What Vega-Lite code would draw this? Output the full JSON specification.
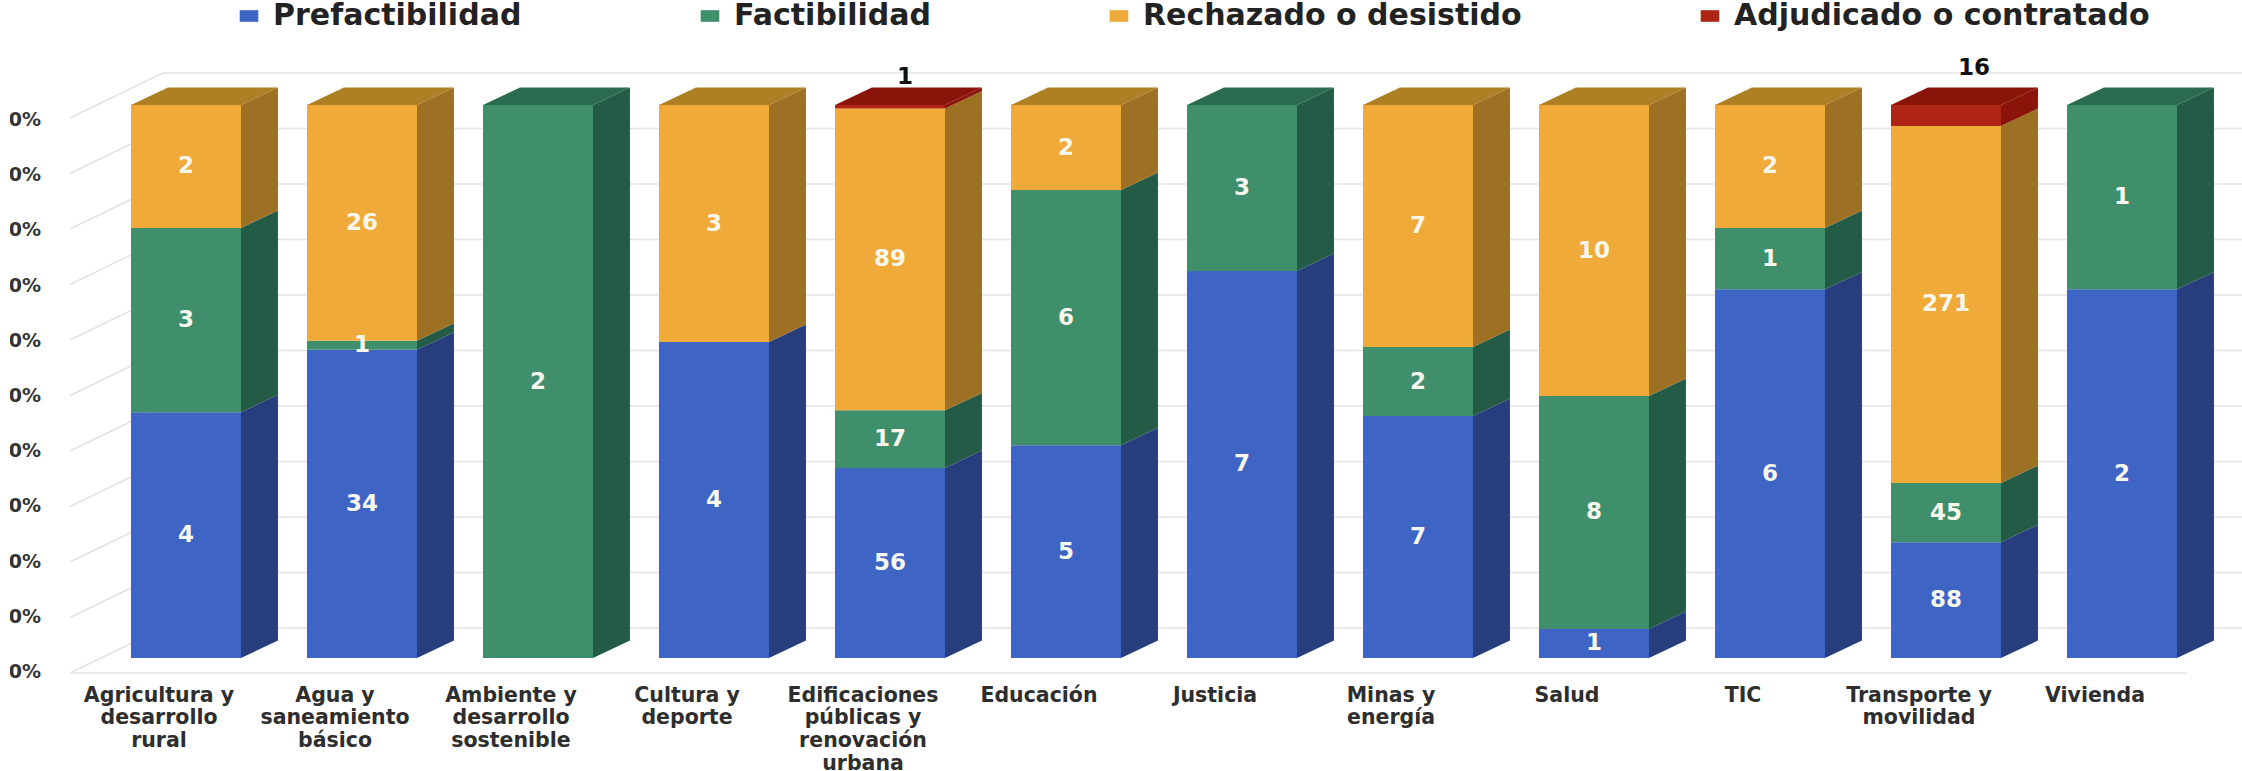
{
"$schema":"https://vega.github.io/schema/vega-lite/v6.json",
"width":2242,"height":771,"padding":0,"autosize":{"type":"none"},"background":"white",
"view":{"stroke":null},
"config":{"font":"DejaVu Sans"},
"datasets":{
"proyectos":[
{"categoria":"Agricultura y\ndesarrollo\nrural","estado":"Prefactibilidad","n":4},
{"categoria":"Agricultura y\ndesarrollo\nrural","estado":"Factibilidad","n":3},
{"categoria":"Agricultura y\ndesarrollo\nrural","estado":"Rechazado o desistido","n":2},
{"categoria":"Agua y\nsaneamiento\nbásico","estado":"Prefactibilidad","n":34},
{"categoria":"Agua y\nsaneamiento\nbásico","estado":"Factibilidad","n":1},
{"categoria":"Agua y\nsaneamiento\nbásico","estado":"Rechazado o desistido","n":26},
{"categoria":"Ambiente y\ndesarrollo\nsostenible","estado":"Factibilidad","n":2},
{"categoria":"Cultura y\ndeporte","estado":"Prefactibilidad","n":4},
{"categoria":"Cultura y\ndeporte","estado":"Rechazado o desistido","n":3},
{"categoria":"Edificaciones\npúblicas y\nrenovación\nurbana","estado":"Prefactibilidad","n":56},
{"categoria":"Edificaciones\npúblicas y\nrenovación\nurbana","estado":"Factibilidad","n":17},
{"categoria":"Edificaciones\npúblicas y\nrenovación\nurbana","estado":"Rechazado o desistido","n":89},
{"categoria":"Edificaciones\npúblicas y\nrenovación\nurbana","estado":"Adjudicado o contratado","n":1},
{"categoria":"Educación","estado":"Prefactibilidad","n":5},
{"categoria":"Educación","estado":"Factibilidad","n":6},
{"categoria":"Educación","estado":"Rechazado o desistido","n":2},
{"categoria":"Justicia","estado":"Prefactibilidad","n":7},
{"categoria":"Justicia","estado":"Factibilidad","n":3},
{"categoria":"Minas y\nenergía","estado":"Prefactibilidad","n":7},
{"categoria":"Minas y\nenergía","estado":"Factibilidad","n":2},
{"categoria":"Minas y\nenergía","estado":"Rechazado o desistido","n":7},
{"categoria":"Salud","estado":"Prefactibilidad","n":1},
{"categoria":"Salud","estado":"Factibilidad","n":8},
{"categoria":"Salud","estado":"Rechazado o desistido","n":10},
{"categoria":"TIC","estado":"Prefactibilidad","n":6},
{"categoria":"TIC","estado":"Factibilidad","n":1},
{"categoria":"TIC","estado":"Rechazado o desistido","n":2},
{"categoria":"Transporte y\nmovilidad","estado":"Prefactibilidad","n":88},
{"categoria":"Transporte y\nmovilidad","estado":"Factibilidad","n":45},
{"categoria":"Transporte y\nmovilidad","estado":"Rechazado o desistido","n":271},
{"categoria":"Transporte y\nmovilidad","estado":"Adjudicado o contratado","n":16},
{"categoria":"Vivienda","estado":"Prefactibilidad","n":2},
{"categoria":"Vivienda","estado":"Factibilidad","n":1}
],
"ticks":[{"t":0},{"t":0.1},{"t":0.2},{"t":0.3},{"t":0.4},{"t":0.5},{"t":0.6},{"t":0.7},{"t":0.8},{"t":0.9},{"t":1}]
},
"layer":[
{"data":{"name":"ticks"},
 "transform":[{"calculate":"0.05425+1.00362*datum.t","as":"vb"}],
 "mark":{"type":"rule","stroke":"#e3e3e3","strokeWidth":1.5},
 "encoding":{"y":{"field":"vb","type":"quantitative","scale":{"domain":[-0.2043,1.1899],"range":[771,0],"nice":false,"zero":false},"axis":null},
  "x":{"datum":0.869,"type":"quantitative","scale":{"domain":[-0.0568,12.6818],"range":[0,2242],"nice":false,"zero":false},"axis":null},
  "x2":{"datum":12.69}}},
{"data":{"name":"ticks"},
 "transform":[{"calculate":"0.05425+1.00362*datum.t","as":"vb"},{"calculate":"-0.02712+1.00362*datum.t","as":"vf"}],
 "mark":{"type":"rule","stroke":"#e3e3e3","strokeWidth":1.5},
 "encoding":{"y":{"field":"vf","type":"quantitative","scale":{"domain":[-0.2043,1.1899],"range":[771,0],"nice":false,"zero":false},"axis":null},"y2":{"field":"vb"},
  "x":{"datum":0.341,"type":"quantitative","scale":{"domain":[-0.0568,12.6818],"range":[0,2242],"nice":false,"zero":false},"axis":null},"x2":{"datum":0.869}}},
{"data":{"name":"ticks"},
 "transform":[{"filter":"datum.t==0"},{"calculate":"-0.02712","as":"vf"}],
 "mark":{"type":"rule","stroke":"#e3e3e3","strokeWidth":1.5},
 "encoding":{"y":{"field":"vf","type":"quantitative","scale":{"domain":[-0.2043,1.1899],"range":[771,0],"nice":false,"zero":false},"axis":null},
  "x":{"datum":0.341,"type":"quantitative","scale":{"domain":[-0.0568,12.6818],"range":[0,2242],"nice":false,"zero":false},"axis":null},"x2":{"datum":12.37}}},
{"data":{"name":"ticks"},
 "transform":[{"calculate":"-0.0253+0.998*datum.t","as":"vl"}],
 "mark":{"type":"text","align":"right","baseline":"middle","font":"DejaVu Sans","fontWeight":"bold","fontSize":19,"color":"#333333"},
 "encoding":{"y":{"field":"vl","type":"quantitative","scale":{"domain":[-0.2043,1.1899],"range":[771,0],"nice":false,"zero":false},"axis":null},
  "x":{"datum":0.176,"type":"quantitative","scale":{"domain":[-0.0568,12.6818],"range":[0,2242],"nice":false,"zero":false},"axis":null},
  "text":{"field":"t","type":"quantitative","format":".0%"}}},
{"data":{"values":[{"tapa":"recorte del eje"}]},
 "mark":{"type":"rect","fill":"white"},
 "encoding":{"x":{"datum":-0.0568,"type":"quantitative","scale":{"domain":[-0.0568,12.6818],"range":[0,2242],"nice":false,"zero":false},"axis":null},"x2":{"datum":0.0},
  "y":{"datum":-0.1,"type":"quantitative","scale":{"domain":[-0.2043,1.1899],"range":[771,0],"nice":false,"zero":false},"axis":null},"y2":{"datum":1.1}}},
{"data":{"name":"proyectos"},
 "transform":[
  {"calculate":"indexof(['Prefactibilidad','Factibilidad','Rechazado o desistido','Adjudicado o contratado'],datum.estado)","as":"orden"},
  {"window":[{"op":"dense_rank","as":"r"}],"sort":[{"field":"categoria"}]},
  {"stack":"n","groupby":["categoria"],"sort":[{"field":"orden"}],"offset":"normalize","as":["v0","v1"]},
  {"calculate":"[0,1]","as":"k"},{"flatten":["k"]},
  {"calculate":"datum.r+0.3125+0.21*datum.k","as":"xs"},
  {"calculate":"datum.v0+0.0316*datum.k","as":"a"},
  {"calculate":"datum.v1+0.0316*datum.k","as":"b"}],
 "mark":{"type":"area","orient":"vertical","interpolate":"linear"},
 "encoding":{"x":{"field":"xs","type":"quantitative","scale":{"domain":[-0.0568,12.6818],"range":[0,2242],"nice":false,"zero":false},"axis":null},
  "y":{"field":"a","type":"quantitative","scale":{"domain":[-0.2043,1.1899],"range":[771,0],"nice":false,"zero":false},"axis":null},"y2":{"field":"b"},
  "detail":{"field":"categoria"},
  "color":{"field":"estado","type":"nominal","legend":null,"scale":{"domain":["Prefactibilidad","Factibilidad","Rechazado o desistido","Adjudicado o contratado"],"range":["#273d7d","#245b46","#9c7124","#8a1409"]}}}},
{"data":{"name":"proyectos"},
 "transform":[
  {"calculate":"indexof(['Prefactibilidad','Factibilidad','Rechazado o desistido','Adjudicado o contratado'],datum.estado)","as":"orden"},
  {"window":[{"op":"dense_rank","as":"r"}],"sort":[{"field":"categoria"}]},
  {"stack":"n","groupby":["categoria"],"sort":[{"field":"orden"}],"offset":"normalize","as":["v0","v1"]},
  {"filter":"datum.v1>0.99999"},
  {"calculate":"[0,1]","as":"k"},{"flatten":["k"]},
  {"calculate":"datum.r-0.3125+0.21*datum.k","as":"xa"},
  {"calculate":"datum.r+0.3125+0.21*datum.k","as":"xb"},
  {"calculate":"1+0.0316*datum.k","as":"a"}],
 "mark":{"type":"area","orient":"horizontal","interpolate":"linear"},
 "encoding":{"y":{"field":"a","type":"quantitative","scale":{"domain":[-0.2043,1.1899],"range":[771,0],"nice":false,"zero":false},"axis":null},
  "x":{"field":"xa","type":"quantitative","scale":{"domain":[-0.0568,12.6818],"range":[0,2242],"nice":false,"zero":false},"axis":null},"x2":{"field":"xb"},
  "detail":{"field":"categoria"},
  "color":{"field":"estado","type":"nominal","legend":null,"scale":{"domain":["Prefactibilidad","Factibilidad","Rechazado o desistido","Adjudicado o contratado"],"range":["#2f4a96","#2b6b50","#ae7f23","#8a1409"]}}}},
{"data":{"name":"proyectos"},
 "transform":[
  {"calculate":"indexof(['Prefactibilidad','Factibilidad','Rechazado o desistido','Adjudicado o contratado'],datum.estado)","as":"orden"},
  {"window":[{"op":"dense_rank","as":"r"}],"sort":[{"field":"categoria"}]},
  {"stack":"n","groupby":["categoria"],"sort":[{"field":"orden"}],"offset":"normalize","as":["v0","v1"]},
  {"calculate":"datum.r-0.3125","as":"xa"},{"calculate":"datum.r+0.3125","as":"xb"}],
 "mark":{"type":"rect"},
 "encoding":{"x":{"field":"xa","type":"quantitative","scale":{"domain":[-0.0568,12.6818],"range":[0,2242],"nice":false,"zero":false},"axis":null},"x2":{"field":"xb"},
  "y":{"field":"v0","type":"quantitative","scale":{"domain":[-0.2043,1.1899],"range":[771,0],"nice":false,"zero":false},"axis":null},"y2":{"field":"v1"},
  "color":{"field":"estado","type":"nominal",
   "scale":{"domain":["Prefactibilidad","Factibilidad","Rechazado o desistido","Adjudicado o contratado"],"range":["#3e64c4","#3f8f6c","#f0aa3a","#ae2415"]},
   "legend":{"title":null,"orient":"none","legendX":234,"legendY":1,"direction":"horizontal","columns":4,"gridAlign":"each","columnPadding":173,
    "symbolType":"M-1.2,-0.75H1.2V0.75H-1.2Z","symbolSize":240,"symbolStrokeWidth":0,"symbolOpacity":1,
    "labelFont":"DejaVu Sans","labelFontWeight":"bold","labelFontSize":30,"labelColor":"#222222","labelLimit":600,"labelOffset":9,
    "encode":{"symbols":{"update":{"fill":{"signal":"datum.value==='Adjudicado o contratado'?'#e62a1d':scale('color',datum.value)"}}}}}}}},
{"data":{"name":"proyectos"},
 "transform":[
  {"calculate":"indexof(['Prefactibilidad','Factibilidad','Rechazado o desistido','Adjudicado o contratado'],datum.estado)","as":"orden"},
  {"window":[{"op":"dense_rank","as":"r"}],"sort":[{"field":"categoria"}]},
  {"stack":"n","groupby":["categoria"],"sort":[{"field":"orden"}],"offset":"normalize","as":["v0","v1"]},
  {"filter":"datum.estado!=='Adjudicado o contratado'"},
  {"calculate":"(datum.v0+datum.v1)/2","as":"m"}],
 "mark":{"type":"text","font":"DejaVu Sans","fontWeight":"bold","fontSize":23,"color":"#f7f7ee","baseline":"middle","align":"center"},
 "encoding":{"x":{"field":"r","type":"quantitative","scale":{"domain":[-0.0568,12.6818],"range":[0,2242],"nice":false,"zero":false},"axis":null},
  "y":{"field":"m","type":"quantitative","scale":{"domain":[-0.2043,1.1899],"range":[771,0],"nice":false,"zero":false},"axis":null},"text":{"field":"n","type":"quantitative"}}},
{"data":{"name":"proyectos"},
 "transform":[
  {"window":[{"op":"dense_rank","as":"r"}],"sort":[{"field":"categoria"}]},
  {"filter":"datum.estado==='Adjudicado o contratado'&&datum.n==1"}],
 "mark":{"type":"text","font":"DejaVu Sans","fontWeight":"bold","fontSize":23,"color":"#111111","baseline":"middle","align":"center","xOffset":15},
 "encoding":{"x":{"field":"r","type":"quantitative","scale":{"domain":[-0.0568,12.6818],"range":[0,2242],"nice":false,"zero":false},"axis":null},
  "y":{"datum":1.0506,"type":"quantitative","scale":{"domain":[-0.2043,1.1899],"range":[771,0],"nice":false,"zero":false},"axis":null},"text":{"field":"n","type":"quantitative"}}},
{"data":{"name":"proyectos"},
 "transform":[
  {"window":[{"op":"dense_rank","as":"r"}],"sort":[{"field":"categoria"}]},
  {"filter":"datum.estado==='Adjudicado o contratado'&&datum.n==16"}],
 "mark":{"type":"text","font":"DejaVu Sans","fontWeight":"bold","fontSize":23,"color":"#111111","baseline":"middle","align":"center","xOffset":28},
 "encoding":{"x":{"field":"r","type":"quantitative","scale":{"domain":[-0.0568,12.6818],"range":[0,2242],"nice":false,"zero":false},"axis":null},
  "y":{"datum":1.0669,"type":"quantitative","scale":{"domain":[-0.2043,1.1899],"range":[771,0],"nice":false,"zero":false},"axis":null},"text":{"field":"n","type":"quantitative"}}},
{"data":{"name":"proyectos"},
 "transform":[
  {"aggregate":[{"op":"count","as":"c"}],"groupby":["categoria"]},
  {"window":[{"op":"dense_rank","as":"r"}],"sort":[{"field":"categoria"}]}],
 "mark":{"type":"text","font":"DejaVu Sans","fontWeight":"bold","fontSize":20.5,"color":"#2e2e2e","baseline":"top","align":"center","xOffset":-27,"lineBreak":"\n","lineHeight":22.7},
 "encoding":{"x":{"field":"r","type":"quantitative","scale":{"domain":[-0.0568,12.6818],"range":[0,2242],"nice":false,"zero":false},"axis":null},
  "y":{"datum":-0.05,"type":"quantitative","scale":{"domain":[-0.2043,1.1899],"range":[771,0],"nice":false,"zero":false},"axis":null},"text":{"field":"categoria","type":"nominal"}}}
],
"resolve":{"scale":{"color":"independent"}}
}
